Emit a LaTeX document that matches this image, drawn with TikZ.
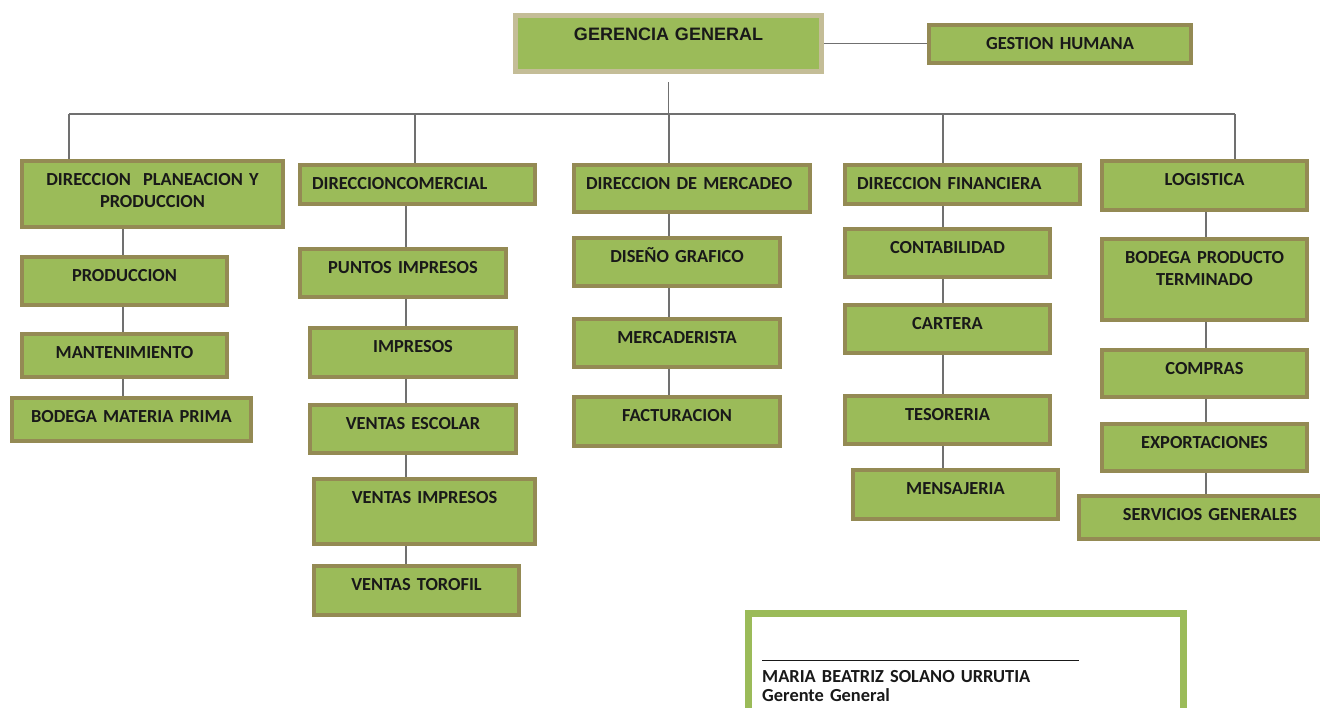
\documentclass[tikz,border=0pt]{standalone}
\usepackage{fontspec}
\newfontfamily\carlito{Carlito}
\newfontfamily\liberation{Liberation Sans}
\definecolor{verde}{HTML}{9BBB59}
\definecolor{cafe}{HTML}{948A54}
\definecolor{arena}{HTML}{C4BD97}
\definecolor{gris}{HTML}{707070}

\begin{document}
\begin{tikzpicture}[x=1pt,y=-1pt]
	\tikzset{caja/.style={draw=cafe,fill=verde,line width=4pt,anchor=north,inner xsep=0pt,inner ysep=12pt,
			text height=12pt,align=center,text=black!90,font={\carlito\bfseries\fontsize{18.4}{22}\selectfont}}}
	\tikzset{izq/.style={inner xsep=12pt,align=left}}
	\tikzset{linea/.style={draw=gris,line width=1.5pt}}
	\fill[white] (0,0) rectangle (1320,707);
	\useasboundingbox (0,0) rectangle (1320,707);
	% cabeza
	\node[caja,draw=arena,line width=5pt,inner ysep=11.5pt,text height=13pt,text width=306pt,text depth=20pt,
		font={\liberation\bfseries\fontsize{18}{22}\selectfont}] (gg) at (668.5,13) {GERENCIA GENERAL};
	\node[caja,text width=262pt,text depth=2pt] (gh) at (1060,23) {GESTION HUMANA};
	% planeacion y produccion
	\node[caja,text width=261pt,text depth=30pt] (dpp) at (152.5,159) {DIRECCION\ \ PLANEACION Y\\PRODUCCION};
	\node[caja,text width=205pt,text depth=12pt] (prod) at (124.5,255) {PRODUCCION};
	\node[caja,text width=205pt,text depth=7pt] (mant) at (124.5,332) {MANTENIMIENTO};
	\node[caja,text width=239pt,text depth=7pt] (bmp) at (131.5,396) {BODEGA MATERIA PRIMA};
	% comercial
	\node[caja,izq,text width=211pt,text depth=3pt] (dc) at (417.5,163) {DIRECCIONCOMERCIAL};
	\node[caja,text width=206pt,text depth=12pt] (pi) at (403,247) {PUNTOS IMPRESOS};
	\node[caja,text width=206pt,text depth=13pt] (imp) at (413,326) {IMPRESOS};
	\node[caja,text width=206pt,text depth=12pt] (ve) at (413,403) {VENTAS ESCOLAR};
	\node[caja,text width=221pt,text depth=29pt] (vi) at (424.5,477) {VENTAS IMPRESOS};
	\node[caja,text width=205pt,text depth=13pt] (vt) at (416.5,564) {VENTAS TOROFIL};
	% mercadeo
	\node[caja,izq,text width=212pt,text depth=11pt] (dm) at (692,163) {DIRECCION DE MERCADEO};
	\node[caja,text width=206pt,text depth=12pt] (dg) at (677,236) {DISEÑO GRAFICO};
	\node[caja,text width=206pt,text depth=12pt] (mer) at (677,317) {MERCADERISTA};
	\node[caja,text width=206pt,text depth=13pt] (fac) at (677,395) {FACTURACION};
	% financiera
	\node[caja,izq,text width=211pt,text depth=3pt] (df) at (962.5,163) {DIRECCION FINANCIERA};
	\node[caja,text width=205pt,text depth=12pt] (con) at (947.5,227) {CONTABILIDAD};
	\node[caja,text width=205pt,text depth=12pt] (car) at (947.5,303) {CARTERA};
	\node[caja,text width=205pt,text depth=12pt] (tes) at (947.5,394) {TESORERIA};
	\node[caja,text width=205pt,text depth=13pt] (men) at (955.5,468) {MENSAJERIA};
	% logistica
	\node[caja,text width=205pt,text depth=13pt] (log) at (1204.5,159) {LOGISTICA};
	\node[caja,text width=205pt,text depth=45pt] (bpt) at (1204.5,237) {BODEGA PRODUCTO\\TERMINADO};
	\node[caja,text width=205pt,text depth=11pt] (com) at (1204.5,348) {COMPRAS};
	\node[caja,text width=205pt,text depth=11pt] (exp) at (1204.5,422) {EXPORTACIONES};
	\node[caja,text width=262pt,text depth=7pt] (sg) at (1210,494) {SERVICIOS GENERALES};
	% firma
	\node[draw=verde,line width=7pt,minimum width=435pt,minimum height=150pt,anchor=north west,inner sep=0pt] (marco) at (745,610) {};
	\node[anchor=base west,inner sep=0pt,text width=330pt,align=left,text=black!90,
		font={\carlito\bfseries\fontsize{18.4}{19}\selectfont}] (firma) at (762,661)
		{\rule{317pt}{1pt}\\[2pt]MARIA BEATRIZ SOLANO URRUTIA\\Gerente General};
	% conectores
	\coordinate (b1) at (69,114);
	\coordinate (b2) at (415,114);
	\coordinate (b3) at (669,114);
	\coordinate (b4) at (943,114);
	\coordinate (b5) at (1235,114);
	\draw[linea] (gg.east) -- (gg.east -| gh.west);
	\draw[linea] ([yshift=-8pt]gg.south) -- (gg.south |- b3);
	\draw[linea] (b1) -- (b5);
	\foreach \b/\n in {b1/dpp,b2/dc,b3/dm,b4/df,b5/log}
		\draw[linea] (\b) -- (\b |- \n.north);
	\coordinate (c1) at (123,0);
	\coordinate (c2) at (406,0);
	\coordinate (c3) at (669,0);
	\coordinate (c4) at (943,0);
	\coordinate (c5) at (1206,0);
	\foreach \a/\n in {dpp/prod,prod/mant,mant/bmp}
		\draw[linea] (\a.south -| c1) -- (\n.north -| c1);
	\foreach \a/\n in {dc/pi,pi/imp,imp/ve,ve/vi,vi/vt}
		\draw[linea] (\a.south -| c2) -- (\n.north -| c2);
	\foreach \a/\n in {dm/dg,dg/mer,mer/fac}
		\draw[linea] (\a.south -| c3) -- (\n.north -| c3);
	\foreach \a/\n in {df/con,con/car,car/tes,tes/men}
		\draw[linea] (\a.south -| c4) -- (\n.north -| c4);
	\foreach \a/\n in {log/bpt,bpt/com,com/exp,exp/sg}
		\draw[linea] (\a.south -| c5) -- (\n.north -| c5);
\end{tikzpicture}
\end{document}
